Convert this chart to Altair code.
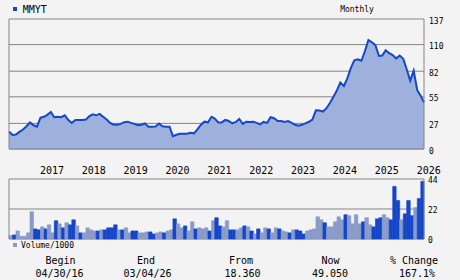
import altair as alt
import pandas as pd

# ---------------- data ----------------
symbol = "MMYT"
period = "Monthly"
volume_title = "Volume/1000"

price = [
    18.36, 14.8, 15.2, 18.0, 20.5, 24.0, 28.0, 25.0, 23.5, 33.0,
    34.0, 36.0, 39.0, 33.5, 34.0, 33.5, 35.5, 30.5, 27.5, 30.5,
    30.5, 30.5, 31.0, 34.5, 36.5, 35.5, 37.0, 34.0, 31.0, 27.5,
    25.6, 25.6, 26.5, 28.3, 28.8, 27.5, 26.5, 25.0, 25.5, 26.9,
    23.5, 23.5, 23.7, 26.9, 24.0, 23.5, 23.5, 13.5, 15.0, 16.1,
    16.1, 16.1, 17.2, 16.5, 20.7, 25.6, 28.8, 28.1, 34.0, 32.0,
    28.0, 28.0, 30.6, 29.5, 27.0, 28.5, 31.6, 26.5, 28.7, 28.5,
    28.7, 27.5, 26.0, 28.5, 27.5, 33.5, 32.5, 29.5, 29.5, 28.5,
    29.5, 27.5, 25.5, 24.6, 25.5, 27.0, 28.7, 31.0, 40.8, 40.5,
    39.5, 43.0, 48.5, 55.0, 62.0, 70.0, 66.4, 74.5, 85.5, 93.5,
    94.5, 93.0, 103.0, 114.9, 112.5, 109.5, 98.0, 98.5, 104.0, 101.0,
    99.0, 95.5, 98.4, 95.0, 84.0, 72.0, 82.5, 62.0, 56.0, 49.05,
]

volume = [
    2.5, 3, 5.9, 2, 2, 4.5, 20, 7.4, 6.7, 8.9,
    7.4, 10.4, 4.5, 13.4, 11.1, 8.2, 11.9, 10.4, 14.1, 9.6,
    4.5, 4.5, 8.2, 6.7, 5.9, 5.9, 6.7, 6.7, 8.2, 8.2,
    10.4, 6.7, 6.7, 8.2, 4.5, 5.9, 5.9, 4.5, 4.5, 5.2,
    5.2, 3.7, 4.5, 5.2, 4.5, 5.9, 6.7, 14.8, 11.1, 8.2,
    9.6, 5.9, 12.6, 7.4, 8.2, 7.4, 8.2, 5.9, 13.4, 15.6,
    9.6, 8.9, 13.4, 6.7, 6.7, 6.7, 8.2, 9.6, 8.9, 5.9,
    3.7, 7.4, 4.5, 8.2, 7.4, 4.5, 8.2, 7.4, 5.9, 5.2,
    4.5, 6.7, 6.7, 5.9, 3.7, 5.9, 6.7, 7.4, 16.3, 14.1,
    11.9, 8.9, 8.9, 12.6, 16.3, 14.1, 17.8, 17.1, 11.1, 17.8,
    11.1, 12.6, 15.6, 10.4, 8.9, 14.8, 15.6, 17.8, 15.6, 14.1,
    38.6, 28.2, 14.1, 18.5, 28.2, 17.1, 23, 29.7, 42.3,
]

# U = up month (light bar), D = down month (dark bar)
updown = list(
    "UDUUUUUDDU" "DUUDUDUDDU" "DUUUUDUDDD" "DUDUUDDUUU"
    "DDUUDUUDUU" "DUUDUUUDUD" "DUUDDUUDUD" "UDUUDUUDUU"
    "DUDDDUUUUU" "DUUUUUDUUU" "UDUUDDDUUD" "DDUDDDUDD"
)

price_ticks = [0, 27, 55, 82, 110, 137]
vol_ticks = [0, 22, 44]
years = list(range(2017, 2027))
table_heads = ["Begin", "End", "From", "Now", "% Change"]
table_vals = ["04/30/16", "03/04/26", "18.360", "49.050", "167.1%"]

# ---------------- tables ----------------
dates = pd.date_range("2016-04-01", periods=len(price), freq="MS") + pd.Timedelta(days=14)
price_df = pd.DataFrame({"date": dates, "price": price, "base": 0})
bar_df = pd.DataFrame({
    "d0": dates[:-1], "d1": dates[1:], "vol": volume, "dir": updown, "base": 0,
})
year_df = pd.DataFrame({
    "d": [pd.Timestamp(y, 1, 1) for y in years],
    "label": [str(y) for y in years],
})
ptick_df = pd.DataFrame({"v": price_ticks, "t": [str(v) for v in price_ticks]})
vtick_df = pd.DataFrame({"v": vol_ticks, "t": [str(v) for v in vol_ticks]})

# ---------------- styling ----------------
W, H = 415, 220
BG = "#f3f3f3"
GRID = "#858585"
LINE = "#1448c8"
FILL = "#9eb0dc"
DARK = "#1446c8"
LIGHT = "#8a9bc9"
MONO = "DejaVu Sans Mono"

xscale = alt.Scale(domain=[alt.DateTime(year=2016, month=4, date=15),
                           alt.DateTime(year=2026, month=3, date=15)])
pscale = alt.Scale(domain=[137 - H * 137 / 130, 137], nice=False, zero=False)
vscale = alt.Scale(domain=[0, 44 * H / 60], nice=False, zero=False)

X = lambda f: alt.X(f, scale=xscale, axis=None)
PY = lambda f: alt.Y(f, scale=pscale, axis=None)
VY = lambda f: alt.Y(f, scale=vscale, axis=None)

one = alt.Data(values=[{"k": 1}])


def vrule(x, y0, y1):
    return alt.Chart(one).mark_rule(color=GRID, strokeWidth=1).encode(
        x=alt.value(x), y=alt.value(y0), y2=alt.value(y1))


def label(text, x, y, size, align="left"):
    return alt.Chart(alt.Data(values=[{"t": text}])).mark_text(
        align=align, baseline="alphabetic", font=MONO, fontSize=size, color="black"
    ).encode(x=alt.value(x), y=alt.value(y), text="t:N")


def swatch(color, x, y):
    return alt.Chart(one).mark_rect(color=color).encode(
        x=alt.value(x), x2=alt.value(x + 4), y=alt.value(y), y2=alt.value(y + 4))


# ---------------- price panel ----------------
p_grid = alt.Chart(ptick_df).mark_rule(color=GRID, strokeWidth=1).encode(
    y=PY("v:Q"), x=alt.value(0), x2=alt.value(W))
p_area = alt.Chart(price_df).mark_area(color=FILL, opacity=1).encode(
    x=X("date:T"), y=PY("price:Q"), y2="base:Q")
p_line = alt.Chart(price_df).mark_line(color=LINE, strokeWidth=2).encode(
    x=X("date:T"), y=PY("price:Q"))
p_zero = alt.Chart(pd.DataFrame({"v": [0]})).mark_rule(color=GRID, strokeWidth=1).encode(
    y=PY("v:Q"), x=alt.value(0), x2=alt.value(W))
p_labels = alt.Chart(ptick_df).mark_text(
    align="left", baseline="alphabetic", dy=4.5, font=MONO, fontSize=8, color="black"
).encode(y=PY("v:Q"), x=alt.value(W + 5), text="t:N")
price_layer = alt.layer(p_grid, p_area, p_line, p_zero, p_labels,
                        vrule(0, 0, 130), vrule(W, 0, 130))

# ---------------- volume panel ----------------
dir_scale = alt.Scale(domain=["D", "U"], range=[DARK, LIGHT])
v_grid = alt.Chart(vtick_df).mark_rule(color=GRID, strokeWidth=1).encode(
    y=VY("v:Q"), x=alt.value(0), x2=alt.value(W))
v_bars = alt.Chart(bar_df).mark_bar(strokeWidth=0.6, opacity=1).encode(
    x=X("d0:T"), x2="d1:T", y=VY("vol:Q"), y2="base:Q",
    color=alt.Color("dir:N", scale=dir_scale, legend=None),
    stroke=alt.Stroke("dir:N", scale=dir_scale, legend=None))
v_labels = alt.Chart(vtick_df).mark_text(
    align="left", baseline="alphabetic", dy=4.3, font=MONO, fontSize=8, color="black"
).encode(y=VY("v:Q"), x=alt.value(W + 4), text="t:N")
vol_layer = alt.layer(v_grid, v_bars, v_labels, vrule(0, 160, 220), vrule(W, 160, 220))

# ---------------- texts ----------------
year_labels = alt.Chart(year_df).mark_text(
    align="left", baseline="alphabetic", dx=1, font=MONO, fontSize=10, color="black"
).encode(x=X("d:T"), y=alt.value(155), text="label:N")

head_x = [51.5, 137, 232, 321.5, 405]
val_x = [50.5, 138.5, 233.5, 321, 408]
table = []
for h, v, hx, vx in zip(table_heads, table_vals, head_x, val_x):
    table.append(label(h, hx, 244.5, 10, "center"))
    table.append(label(v, vx, 258, 10, "center"))

chart = alt.layer(
    price_layer, vol_layer, year_labels,
    swatch(DARK, 4, -12), label(symbol, 13.7, -5.7, 10),
    label(period, 348, -6.7, 8, "center"),
    swatch(LIGHT, 4, 224), label(volume_title, 12, 228.7, 8),
    *table,
).resolve_scale(y="independent").properties(
    width=W, height=H,
    padding={"left": 9, "top": 19, "right": 36, "bottom": 41},
    autosize=alt.AutoSizeParams(type="none"),
    background=BG,
).configure_view(stroke=None)

chart.save("out.html", embed_options={"renderer": "svg", "actions": False})
